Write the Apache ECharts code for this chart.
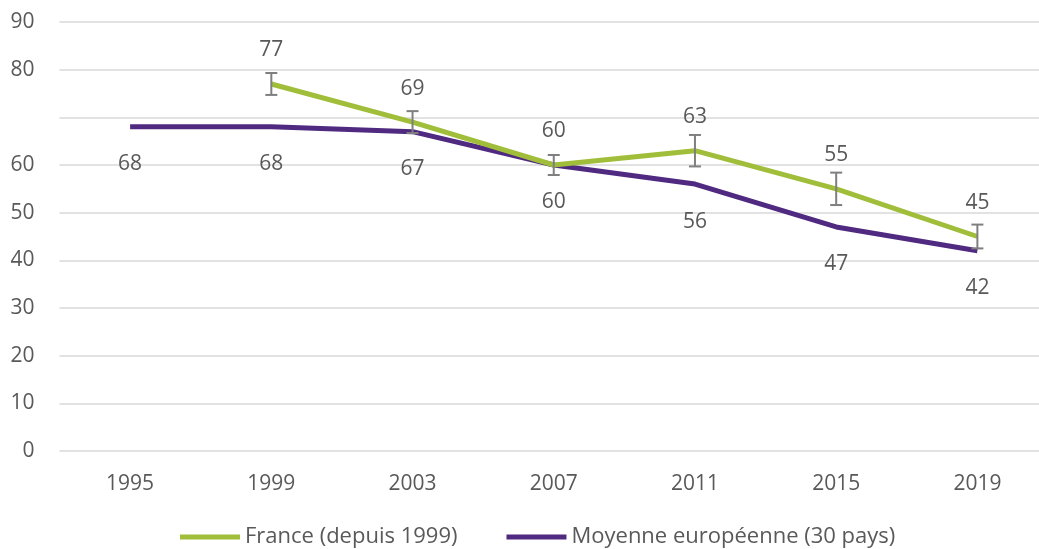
<!DOCTYPE html>
<html>
<head>
<meta charset="utf-8">
<script src="https://cdn.jsdelivr.net/npm/echarts@6/dist/echarts.min.js"></script>
<style>
  html, body { margin: 0; padding: 0; background: #ffffff; overflow: hidden; }
  /* the plot runs slightly past the right edge of the window */
  #chart { width: 1048px; height: 549px; }
</style>
</head>
<body>
<div id="chart"></div>
<script>
// Survey years
const years = ['1995', '1999', '2003', '2007', '2011', '2015', '2019'];

// France (since 1999) and the 30-country European average
const franceValues = [null, 77, 69, 60, 63, 55, 45];
const europeValues = [68, 68, 67, 60, 56, 47, 42];

// Confidence interval half-widths for France
const franceError = [null, 2.3, 2.3, 2.1, 3.3, 3.4, 2.5];

// Y-axis ticks shown (70 is left unlabelled)
const yTickLabels = ['0', '10', '20', '30', '40', '50', '60', '', '80', '90'];

const textColor = '#595959';
const fontFamily = '"Open Sans", sans-serif';
const green = '#a1be3b';
const purple = '#4f2a80';
const labelSize = 21;

const errorData = years.map((y, i) =>
  franceValues[i] == null ? null : [i, franceValues[i] - franceError[i], franceValues[i] + franceError[i]]
).filter(d => d);

const chart = echarts.init(document.getElementById('chart'));
chart.setOption({
  animation: false,
  backgroundColor: '#ffffff',
  textStyle: { fontFamily: fontFamily, color: textColor },
  grid: { left: 59.5, right: 0, top: 22, bottom: 98, containLabel: false },
  legend: {
    top: 521,
    left: 175,
    itemWidth: 60,
    itemHeight: 5,
    itemGap: 49,
    icon: 'rect',
    textStyle: { fontSize: 22, color: textColor, fontFamily: fontFamily },
    data: ['France (depuis 1999)', 'Moyenne européenne (30 pays)']
  },
  xAxis: {
    type: 'category',
    data: years,
    boundaryGap: true,
    axisLine: { show: false },
    axisTick: { show: false },
    axisLabel: { fontSize: labelSize, color: textColor, margin: 23, fontFamily: fontFamily }
  },
  yAxis: {
    type: 'value',
    min: 0,
    max: 90,
    interval: 10,
    axisLine: { show: false },
    axisTick: { show: false },
    splitLine: { lineStyle: { color: '#d9d9d9', width: 1.5 } },
    axisLabel: {
      fontSize: labelSize,
      color: textColor,
      margin: 25,
      fontFamily: fontFamily,
      formatter: (v) => yTickLabels[Math.round(v / 10)]
    }
  },
  series: [
    {
      name: 'Moyenne européenne (30 pays)',
      type: 'line',
      data: europeValues,
      color: purple,
      symbol: 'circle',
      symbolSize: 0.01,
      showSymbol: true,
      lineStyle: { width: 5, color: purple },
      z: 2,
      label: {
        show: true,
        position: 'bottom',
        distance: 27,
        fontSize: labelSize,
        lineHeight: 21,
        color: textColor,
        fontFamily: fontFamily
      }
    },
    {
      name: 'France (depuis 1999)',
      type: 'line',
      data: franceValues,
      color: green,
      symbol: 'circle',
      symbolSize: 0.01,
      showSymbol: true,
      lineStyle: { width: 5, color: green },
      z: 3,
      label: {
        show: true,
        position: 'top',
        distance: 23,
        fontSize: labelSize,
        lineHeight: 21,
        color: textColor,
        fontFamily: fontFamily
      }
    },
    {
      name: 'errorbars',
      type: 'custom',
      z: 4,
      data: errorData,
      encode: { x: 0, y: [1, 2] },
      renderItem: function (params, api) {
        const i = api.value(0);
        const lo = api.coord([i, api.value(1)]);
        const hi = api.coord([i, api.value(2)]);
        const half = 6;
        const style = { stroke: '#7f7f7f', lineWidth: 2 };
        return {
          type: 'group',
          children: [
            { type: 'line', shape: { x1: hi[0], y1: hi[1], x2: lo[0], y2: lo[1] }, style: style },
            { type: 'line', shape: { x1: hi[0] - half, y1: hi[1], x2: hi[0] + half, y2: hi[1] }, style: style },
            { type: 'line', shape: { x1: lo[0] - half, y1: lo[1], x2: lo[0] + half, y2: lo[1] }, style: style }
          ]
        };
      }
    }
  ]
});
</script>
</body>
</html>
